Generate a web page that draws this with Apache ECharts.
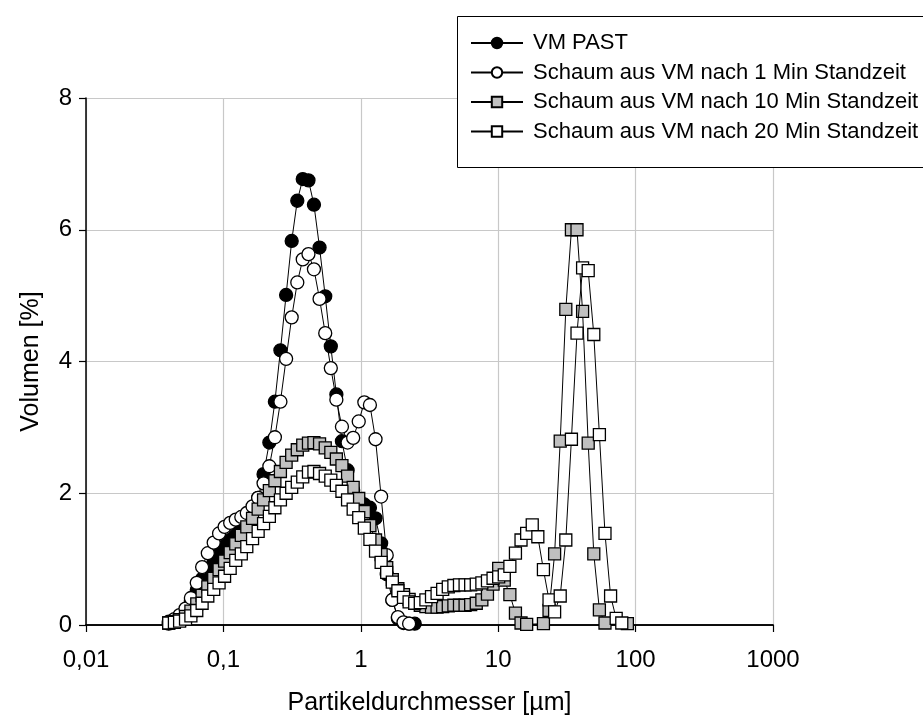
<!DOCTYPE html>
<html><head><meta charset="utf-8">
<script src="https://cdn.jsdelivr.net/npm/echarts@6/dist/echarts.min.js"></script>
<style>html,body{margin:0;padding:0;background:#fff}#c{width:923px;height:724px}</style>
</head><body><div id="c"></div>
<script>
// Particle size channels (µm)
const sizes = [0.040,0.044,0.048,0.053,0.058,0.064,0.070,0.077,0.085,0.093,
0.102,0.112,0.123,0.135,0.148,0.163,0.179,0.196,0.216,0.237,
0.260,0.286,0.314,0.345,0.378,0.416,0.456,0.501,0.551,0.605,
0.664,0.729,0.801,0.880,0.966,1.061,1.165,1.280,1.406,1.544,
1.696,1.862,2.046,2.247,2.468,2.710,2.977,3.270,3.591,3.944,
4.332,4.758,5.226,5.740,6.304,6.924,7.605,8.353,9.174,10.08,
11.07,12.16,13.35,14.66,16.11,17.69,19.43,21.34,23.44,25.74,
28.27,31.05,34.11,37.46,41.14,45.19,49.63,54.51,59.87,65.76,
72.22,79.32,87.12];

const vmPast = [0.02,0.06,0.12,0.22,0.36,0.53,0.70,0.86,0.99,1.10,
1.20,1.29,1.37,1.46,1.57,1.71,1.93,2.29,2.77,3.39,
4.17,5.01,5.83,6.44,6.77,6.75,6.38,5.73,4.99,4.23,
3.50,2.79,2.35,2.05,1.90,1.83,1.78,1.62,1.24,0.77,
0.38,0.10,0.03,0.02,0.02,null,null,null,null,null,
null,null,null,null,null,null,null,null,null,null,
null,null,null,null,null,null,null,null,null,null,
null,null,null,null,null,null,null,null,null,null,
null,null,null];

const min1 = [0.05,0.09,0.15,0.25,0.41,0.64,0.88,1.09,1.25,1.39,
1.49,1.55,1.60,1.64,1.70,1.80,1.93,2.15,2.41,2.85,
3.39,4.04,4.67,5.20,5.55,5.63,5.40,4.95,4.43,3.90,
3.42,3.01,2.77,2.84,3.09,3.38,3.34,2.82,1.95,1.06,
0.38,0.12,0.04,0.02,null,null,null,null,null,null,
null,null,null,null,null,null,null,null,null,null,
null,null,null,null,null,null,null,null,null,null,
null,null,null,null,null,null,null,null,null,null,
null,null,null];

const min10 = [0.03,0.05,0.08,0.13,0.21,0.32,0.45,0.58,0.71,0.84,
0.97,1.10,1.23,1.36,1.49,1.62,1.76,1.90,2.04,2.19,
2.33,2.47,2.58,2.66,2.73,2.76,2.77,2.75,2.69,2.62,
2.52,2.42,2.26,2.09,1.92,1.72,1.51,1.29,1.07,0.87,
0.69,0.55,0.46,0.39,0.34,0.30,0.28,0.27,0.27,0.28,
0.29,0.30,0.30,0.30,0.31,0.33,0.38,0.47,0.62,0.86,
0.68,0.46,0.18,0.03,0.01,null,null,0.02,0.22,1.08,
2.79,4.79,6.00,6.00,4.76,2.76,1.08,0.23,0.03,null,
null,null,0.02];

const min20 = [0.03,0.04,0.06,0.09,0.14,0.22,0.33,0.44,0.54,0.64,
0.74,0.86,0.98,1.08,1.19,1.31,1.42,1.54,1.65,1.78,
1.90,2.00,2.09,2.17,2.25,2.32,2.33,2.30,2.26,2.20,
2.12,2.03,1.90,1.76,1.63,1.47,1.30,1.12,0.95,0.80,
0.65,0.52,0.42,0.35,0.33,0.34,0.38,0.43,0.48,0.54,
0.58,0.60,0.61,0.61,0.61,0.62,0.64,0.67,0.71,0.73,
0.76,0.89,1.09,1.29,1.39,1.52,1.34,0.84,0.38,0.20,
0.44,1.29,2.82,4.43,5.42,5.38,4.41,2.89,1.39,0.44,
0.10,0.03,null];

const seriesNames = ['VM PAST','Schaum aus VM nach 1 Min Standzeit','Schaum aus VM nach 10 Min Standzeit','Schaum aus VM nach 20 Min Standzeit'];
const xTickLabels = ['0,01','0,1','1','10','100','1000'];
const xTitle = 'Partikeldurchmesser [µm]';
const yTitle = 'Volumen [%]';

const FONT = '"Liberation Sans", Arial, sans-serif';

function pairs(vals){
  const out = [];
  vals.forEach((v,i)=>{ if(v !== null) out.push([sizes[i], v]); });
  return out;
}

const styles = [
  {symbol:'circle', size:13, fill:'#000000'},
  {symbol:'circle', size:13, fill:'#ffffff'},
  {symbol:'rect', size:12, fill:'#c0c0c0'},
  {symbol:'rect', size:12, fill:'#ffffff'}
];
const allVals = [vmPast, min1, min10, min20];

const chart = echarts.init(document.getElementById('c'), null, {renderer:'canvas'});
chart.setOption({
  animation:false,
  backgroundColor:'#ffffff',
  textStyle:{fontFamily:FONT},
  grid:{left:86, right:150, top:98, bottom:99, containLabel:false},
  graphic:[{
    type:'rect', z:5, left:457, top:16,
    shape:{x:0,y:0,width:500,height:151},
    style:{fill:'#ffffff', stroke:'#000000', lineWidth:1}
  }],
  legend:{
    z:6, orient:'vertical', left:470, top:32, padding:0,
    itemWidth:52, itemHeight:13, itemGap:7.5,
    textStyle:{fontFamily:FONT, fontSize:22, color:'#000', lineHeight:22, padding:[0,0,0,5]},
    data:seriesNames
  },
  xAxis:[{
    type:'log', logBase:10, min:0.01, max:1000,
    axisLine:{show:true, onZero:false, lineStyle:{color:'#000', width:1.5}},
    axisTick:{show:true, inside:false, length:7, lineStyle:{color:'#000', width:1.2}},
    minorTick:{show:false},
    axisLabel:{fontFamily:FONT, fontSize:24, color:'#000', margin:23,
      formatter:function(v){ const k = Math.round(Math.log10(v)) + 2; return xTickLabels[k] !== undefined ? xTickLabels[k] : ''; }},
    splitLine:{show:true, lineStyle:{color:'#c8c8c8', width:1.2}},
    name:xTitle, nameLocation:'middle', nameGap:66,
    nameTextStyle:{fontFamily:FONT, fontSize:25, color:'#000'}
  },{
    type:'log', logBase:10, min:0.01, max:1000, position:'top',
    axisLine:{show:true, lineStyle:{color:'#000', width:1.5}},
    axisTick:{show:false}, axisLabel:{show:false}, splitLine:{show:false}
  }],
  yAxis:{
    type:'value', min:0, max:8, interval:2,
    axisLine:{show:true, lineStyle:{color:'#000', width:1.5}},
    axisTick:{show:true, inside:false, length:7, lineStyle:{color:'#000', width:1.2}},
    axisLabel:{fontFamily:FONT, fontSize:24, color:'#000', margin:14},
    splitLine:{show:true, lineStyle:{color:'#c8c8c8', width:1.2}},
    name:yTitle, nameLocation:'middle', nameGap:42, nameRotate:90,
    nameTextStyle:{fontFamily:FONT, fontSize:25, color:'#000'}
  },
  series: allVals.map((vals, k) => ({
    name:seriesNames[k], type:'line', xAxisIndex:0,
    data:pairs(vals),
    symbol:styles[k].symbol, symbolSize:styles[k].size, showAllSymbol:true,
    lineStyle:{color:'#000', width:1},
    itemStyle:{color:styles[k].fill, borderColor:'#000', borderWidth:1.3},
    emphasis:{disabled:true},
    z:2+k
  }))
});
</script></body></html>
